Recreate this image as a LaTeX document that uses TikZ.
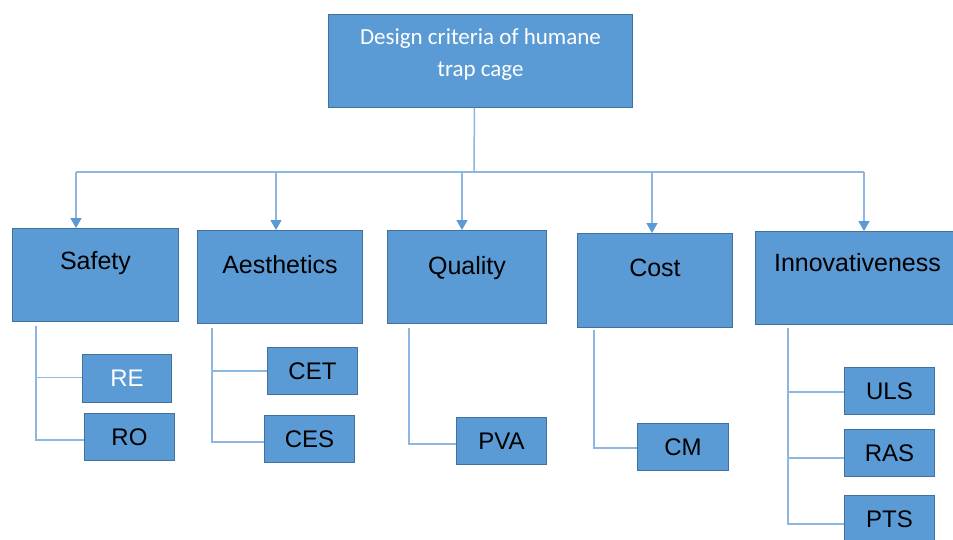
\documentclass[tikz,border=0pt]{standalone}
\usepackage{fontspec}
\setmainfont{Liberation Sans}
\newfontfamily\calibrifont{Carlito}
\usetikzlibrary{arrows.meta}
\definecolor{boxblue}{HTML}{5B9BD5}
\definecolor{boxedge}{HTML}{41719C}
\definecolor{linkblue}{HTML}{8DB6E2}
\begin{document}
\begin{tikzpicture}[x=1pt,y=-1pt,
  box/.style={draw=boxedge, fill=boxblue, line width=0.9pt, inner sep=0pt, anchor=north west},
  catbox/.style={box, minimum height=93pt},
  cattext/.style={anchor=center, yshift=-35pt, font=\fontsize{25}{30}\selectfont, text=black},
  subbox/.style={box, minimum width=90pt, minimum height=47pt, font=\fontsize{24}{28}\selectfont, text=black},
  link/.style={draw=linkblue, line width=1.5pt},
  arr/.style={link, -{Triangle[length=10pt,width=11pt,fill=boxblue,color=boxblue]}}]
\useasboundingbox (0,0) rectangle (953,539);
\fill[white] (0,0) rectangle (953,539);

% top node
\node[box, minimum width=304pt, minimum height=93pt,
  label={[anchor=center, yshift=-40pt, align=center, text=white, font=\calibrifont\fontsize{23}{32}\selectfont]north:Design criteria of humane\\trap cage}] (top) at (328,14) {};

% categories
\node[catbox, minimum width=166pt, label={[cattext]north:Safety}] (safety) at (12,228) {};
\node[catbox, minimum width=165pt, label={[cattext]north:Aesthetics}] (aesth) at (197,230) {};
\node[catbox, minimum width=159pt, label={[cattext, yshift=-3pt]north:Quality}] (quality) at (387,230) {};
\node[catbox, minimum width=155pt, minimum height=94pt, label={[cattext]north:Cost}] (cost) at (577,233) {};
\node[catbox, minimum width=204pt, label={[cattext, yshift=3pt]north:Innovativeness}] (innov) at (755,231) {};

% sub nodes
\node[subbox, minimum width=89pt, minimum height=48pt, text=white] (re) at (82,354) {RE};
\node[subbox] (ro) at (84,413) {RO};
\node[subbox] (cet) at (267,347) {CET};
\node[subbox] (ces) at (264,415) {CES};
\node[subbox] (pva) at (456,417) {PVA};
\node[subbox, minimum width=91pt] (cm) at (637,423) {CM};
\node[subbox] (uls) at (844,367) {ULS};
\node[subbox] (ras) at (844,429) {RAS};
\node[subbox] (pts) at (844,495) {PTS};

% trunk and distribution line
\coordinate (j) at (474,172);
\coordinate (hl) at (76,172);
\coordinate (hr) at (864,172);
\draw[link] ([xshift=-6pt]top.south) -- (j);
\draw[link] (hl) -- (hr);
\coordinate (a1) at (76,172);
\coordinate (a2) at (276,172);
\coordinate (a3) at (462,172);
\coordinate (a4) at (652,172);
\coordinate (a5) at (864,172);
\draw[arr] (a1) -- (a1 |- safety.north);
\draw[arr] (a2) -- (a2 |- aesth.north);
\draw[arr] (a3) -- (a3 |- quality.north);
\draw[arr] (a4) -- (a4 |- cost.north);
\draw[arr] (a5) -- (a5 |- innov.north);

% branches
\draw[link] ([xshift=24pt,yshift=-4pt]safety.south west) |- ([yshift=1pt]re.west);
\draw[link] ([xshift=24pt,yshift=-4pt]safety.south west) |- ([yshift=-3pt]ro.west);
\draw[link] ([xshift=15pt,yshift=-4pt]aesth.south west) |- (cet.west);
\draw[link] ([xshift=15pt,yshift=-4pt]aesth.south west) |- ([yshift=-3pt]ces.west);
\draw[link] ([xshift=22pt,yshift=-4pt]quality.south west) |- ([yshift=-3pt]pva.west);
\draw[link] ([xshift=17pt,yshift=-2pt]cost.south west) |- ([yshift=-1pt]cm.west);
\draw[link] ([xshift=33pt,yshift=-3pt]innov.south west) |- ([yshift=-1pt]uls.west);
\draw[link] ([xshift=33pt,yshift=-3pt]innov.south west) |- ([yshift=-5pt]ras.west);
\draw[link] ([xshift=33pt,yshift=-3pt]innov.south west) |- ([yshift=-5pt]pts.west);
\end{tikzpicture}
\end{document}
